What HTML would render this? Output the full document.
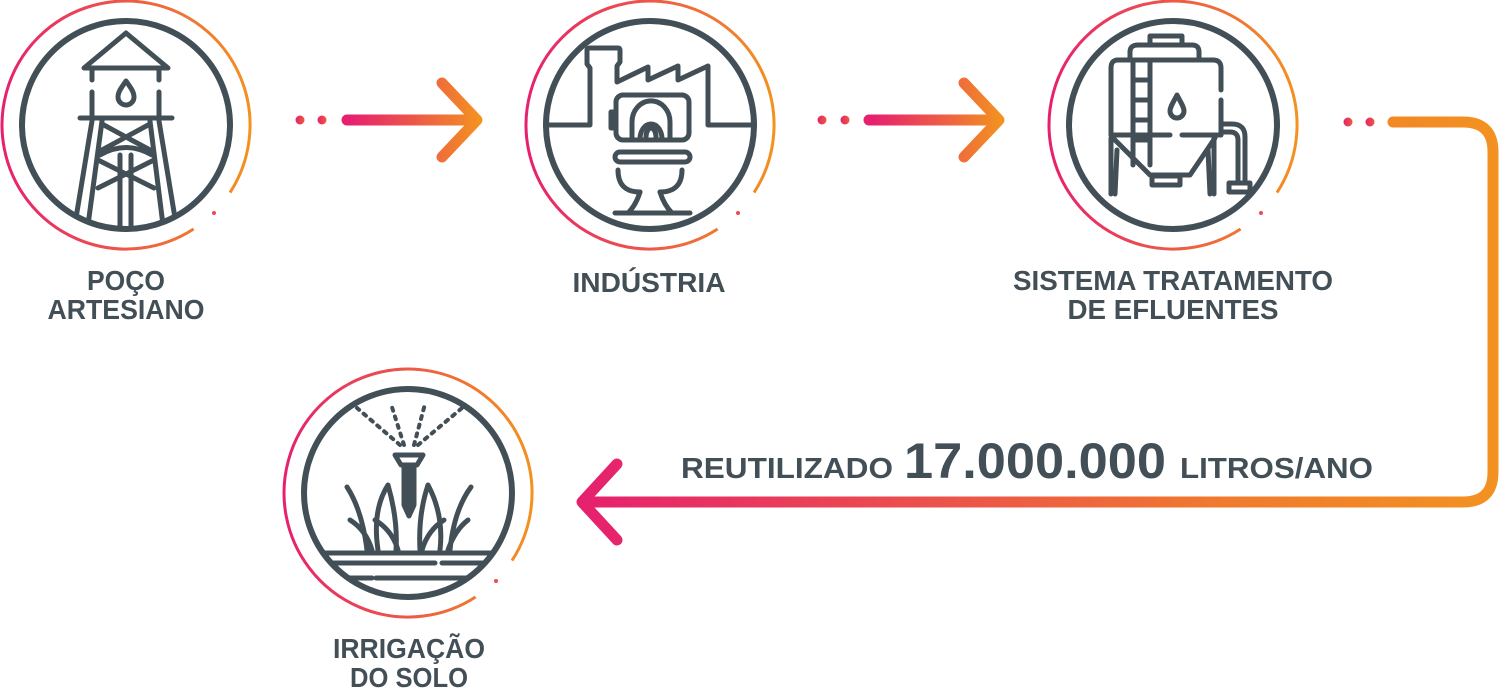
<!DOCTYPE html>
<html><head><meta charset="utf-8"><style>
html,body{margin:0;padding:0;background:#fff;}
svg{display:block}
text{font-family:"Liberation Sans",sans-serif;font-weight:bold;fill:#434f57}
</style></head><body>
<svg width="1500" height="689" viewBox="0 0 1500 689" xmlns="http://www.w3.org/2000/svg">
<defs>
<linearGradient id="rg" x1="0" y1="0" x2="1" y2="0">
<stop offset="0" stop-color="#e6206f"/><stop offset="1" stop-color="#f39220"/></linearGradient>
<linearGradient id="ag1" gradientUnits="userSpaceOnUse" x1="295" y1="0" x2="480" y2="0">
<stop offset="0" stop-color="#e6206f"/><stop offset="0.3" stop-color="#e6206f"/><stop offset="1" stop-color="#f39220"/></linearGradient>
<linearGradient id="ag2" gradientUnits="userSpaceOnUse" x1="817" y1="0" x2="1002" y2="0">
<stop offset="0" stop-color="#e6206f"/><stop offset="0.3" stop-color="#e6206f"/><stop offset="1" stop-color="#f39220"/></linearGradient>
<linearGradient id="ag3" gradientUnits="userSpaceOnUse" x1="580" y1="0" x2="1500" y2="0">
<stop offset="0" stop-color="#e6206f"/><stop offset="0.7" stop-color="#f07a2e"/><stop offset="1" stop-color="#f39220"/></linearGradient>
<linearGradient id="dg" x1="0" y1="0" x2="1" y2="0">
<stop offset="0" stop-color="#e6206f"/><stop offset="1" stop-color="#ee5a3f"/></linearGradient>
<clipPath id="c1"><circle cx="126" cy="125" r="102"/></clipPath>
<clipPath id="c2"><circle cx="650" cy="125" r="102"/></clipPath>
<clipPath id="c4"><circle cx="408" cy="493" r="102"/></clipPath>
</defs>

<!-- rings -->
<g fill="none" stroke="url(#rg)" stroke-width="3">
<path d="M193.6 229 A124 124 0 1 1 230 192.6"/>
<path d="M717.6 229 A124 124 0 1 1 754 192.6"/>
<path d="M1240.6 229 A124 124 0 1 1 1277 192.6"/>
<path d="M475.6 597 A124 124 0 1 1 512 560.6"/>
</g>
<g fill="#ee4a50">
<circle cx="214" cy="213" r="2"/><circle cx="738" cy="213" r="2"/><circle cx="1261" cy="213" r="2"/><circle cx="496" cy="581" r="2"/>
</g>
<g fill="none" stroke="#434f57" stroke-width="6">
<circle cx="126" cy="125" r="104"/>
<circle cx="650" cy="125" r="104"/>
<circle cx="1173" cy="125" r="104"/>
<circle cx="408" cy="493" r="104"/>
</g>

<!-- icon 1: water tower -->
<g clip-path="url(#c1)" fill="none" stroke="#434f57" stroke-width="5" stroke-linecap="round" stroke-linejoin="round">
<path d="M84 68 L126 33 L168 68 Z"/>
<path d="M92 70 V80 M92 92 V118 M159 70 V80 M159 92 V118"/>
<path d="M126 81 C121 88 118 92 118 97 a8 8 0 0 0 16 0 c0 -5 -3 -9 -8 -16 z"/>
<path d="M80 118 H172"/>
<path d="M92 121 L76 218 M102 121 L88 225 M159 121 L175 218 M150 121 L163 225"/>
<path d="M120 155 V235 M131 155 V235"/>
<path d="M102 124 L150 150 M150 124 L102 150 M100 155 Q126 140 152 155"/>
<path d="M98 160 L154 188 M154 160 L98 188"/>
</g>

<!-- icon 2: factory + toilet -->
<g clip-path="url(#c2)" fill="none" stroke="#434f57" stroke-width="5" stroke-linecap="round" stroke-linejoin="round">
<path d="M540 125 H590 V68 L587 64 V50 Q587 48 590 48 H618 Q620 48 620 50 V62 L617 66 V82 L648 67 V80 L678 66 V80 L708 66 V125 H760"/>
<rect x="616" y="95" width="73" height="45" rx="7"/>
<path d="M616 112 h-5 v16 h5"/>
<path d="M632 139 V122 a18 20 0 0 1 38 0 V139"/>
<path d="M640 139 a11 15 0 1 1 22 0"/>
<path d="M646 137 a5 9 0 1 1 10 0"/>
<rect x="615" y="152" width="75" height="10" rx="5"/>
<path d="M618 170 Q618 192 640 192 M682 170 Q682 192 660 192"/>
<path d="M640 192 Q636 205 628 213 M660 192 Q664 205 672 213 M615 213 H690"/>
</g>

<!-- icon 3: tank -->
<g fill="none" stroke="#434f57" stroke-width="5" stroke-linecap="round" stroke-linejoin="round">
<rect x="1150" y="36" width="32" height="9"/>
<path d="M1130 60 V52 Q1130 45 1138 45 H1192 Q1199 45 1199 52 V60"/>
<path d="M1111 135 V68 Q1111 60 1118 60 H1213 Q1221 60 1221 68 V90 M1221 100 V135"/>
<path d="M1133 60 V165 M1150 60 V165 M1133 80 H1150 M1133 100 H1150 M1133 120 H1150 M1133 140 H1150"/>
<path d="M1177 95 C1173 103 1170 107 1170 111 a7 7 0 0 0 14 0 c0 -4 -3 -8 -7 -16 z"/>
<path d="M1111 135 H1170 M1182 135 H1221"/>
<path d="M1113 138 L1150 175 H1190 L1215 138"/>
<rect x="1152" y="176" width="28" height="9"/>
<path d="M1111 138 V194 M1117 150 L1115 194 M1214 138 V194 M1208 150 L1210 194"/>
<path d="M1221 124 H1232 Q1245 124 1245 137 V180 M1221 132 H1230 Q1238 132 1238 140 V180"/>
<rect x="1229" y="183" width="21" height="9"/>
</g>

<!-- icon 4: irrigation -->
<g clip-path="url(#c4)" fill="none" stroke="#434f57" stroke-width="5" stroke-linecap="round" stroke-linejoin="round">
<path d="M400 445 L357 408 M404 445 L391 404 M414 445 L425 404 M418 445 L462 408" stroke-dasharray="3 6" stroke-width="4"/>
<path d="M395 455 H423 L417 465 H401 Z"/>
<path d="M404 465 V505 L409 516 L414 505 V465" fill="#434f57"/>
<path d="M347 487 Q362 510 367 550 M350 520 Q366 530 372 550"/>
<path d="M388 485 Q372 510 378 550 M388 485 Q398 520 396 550"/>
<path d="M428 485 Q418 515 420 550 M428 485 Q444 515 440 550"/>
<path d="M471 487 Q454 510 450 550 M468 520 Q455 530 448 550"/>
<path d="M375 520 Q392 530 398 550 M444 520 Q428 530 422 550"/>
<path d="M320 553 H500"/>
<path d="M320 563 H435 M442 563 H500"/>
<path d="M340 578 H372 M376 578 H480"/>
</g>

<!-- arrows -->
<g stroke-linecap="round" stroke-linejoin="round" fill="none" stroke-width="11">
<circle cx="300" cy="120" r="4.5" fill="url(#dg)" stroke="none"/>
<circle cx="322" cy="120" r="4.5" fill="url(#dg)" stroke="none"/>
<path d="M347 120 H476 M442 83 L477 120 L442 157" stroke="url(#ag1)"/>
<circle cx="822" cy="120" r="4.5" fill="url(#dg)" stroke="none"/>
<circle cx="845" cy="120" r="4.5" fill="url(#dg)" stroke="none"/>
<path d="M869 120 H998 M964 83 L999 120 L964 157" stroke="url(#ag2)"/>
<circle cx="1348" cy="122" r="4.5" fill="url(#dg)" stroke="none"/>
<circle cx="1370" cy="122" r="4.5" fill="url(#dg)" stroke="none"/>
<path d="M1393 122 H1463 Q1493 122 1493 152 V472 Q1493 502 1463 502 H583 M617 464 L582 502 L617 540" stroke="url(#ag3)"/>
</g>

<!-- labels -->
<g font-size="28" text-anchor="middle">
<text x="126" y="290" textLength="78" lengthAdjust="spacingAndGlyphs">POÇO</text>
<text x="126" y="319" textLength="157" lengthAdjust="spacingAndGlyphs">ARTESIANO</text>
<text x="649" y="292" textLength="153" lengthAdjust="spacingAndGlyphs">INDÚSTRIA</text>
<text x="1173" y="290" textLength="320" lengthAdjust="spacingAndGlyphs">SISTEMA TRATAMENTO</text>
<text x="1173" y="319" textLength="211" lengthAdjust="spacingAndGlyphs">DE EFLUENTES</text>
<text x="409" y="658" textLength="152" lengthAdjust="spacingAndGlyphs">IRRIGAÇÃO</text>
<text x="409" y="687" textLength="118" lengthAdjust="spacingAndGlyphs">DO SOLO</text>
</g>
<text x="681" y="478" font-size="29" textLength="212" lengthAdjust="spacingAndGlyphs">REUTILIZADO</text>
<text x="904" y="478" font-size="50" textLength="262" lengthAdjust="spacingAndGlyphs">17.000.000</text>
<text x="1180" y="478" font-size="29" textLength="193" lengthAdjust="spacingAndGlyphs">LITROS/ANO</text>
</svg>
</body></html>
